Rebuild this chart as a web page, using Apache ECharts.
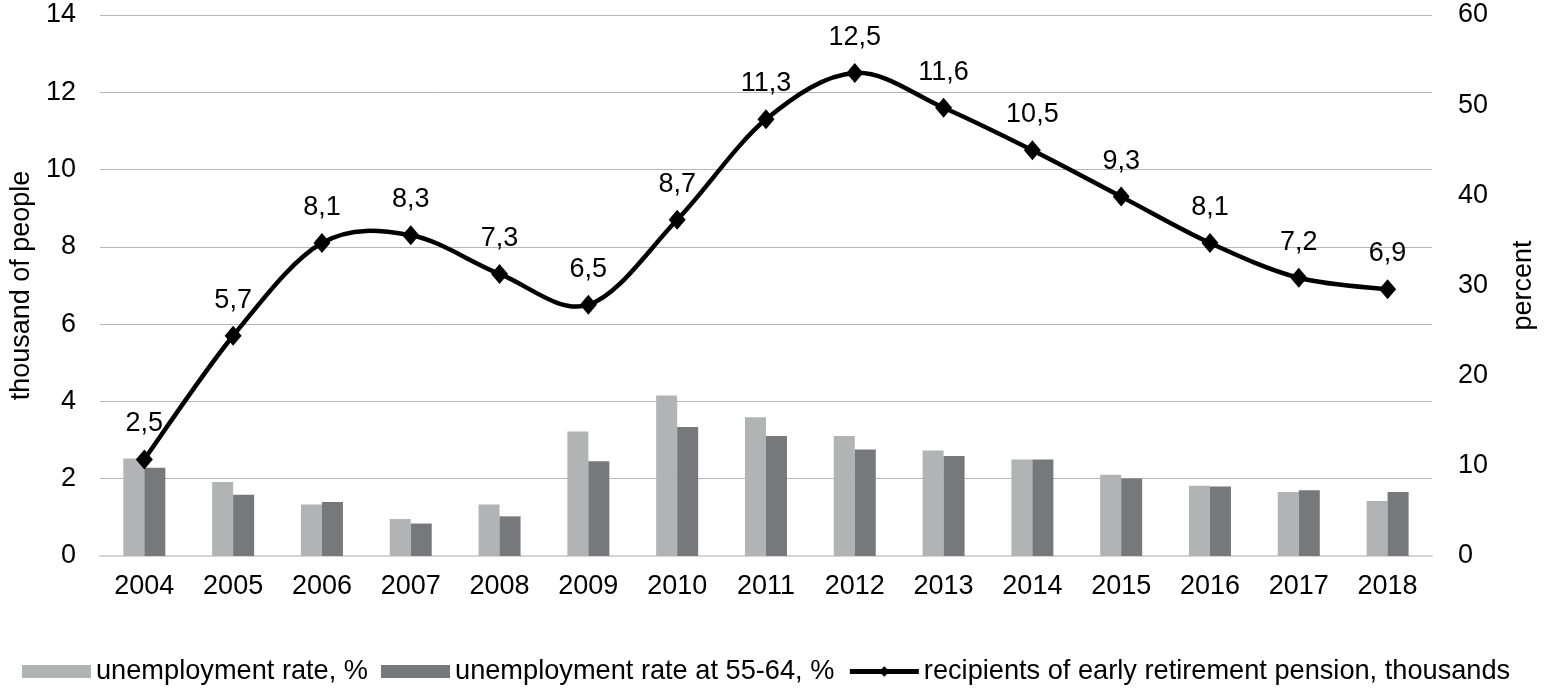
<!DOCTYPE html>
<html>
<head>
<meta charset="utf-8">
<script src="https://cdn.jsdelivr.net/npm/echarts@6/dist/echarts.min.js"></script>
<style>html,body{margin:0;padding:0;background:#fff}#c{width:1558px;height:700px}</style>
</head>
<body>
<div id="c"></div>
<script>
const years = ['2004','2005','2006','2007','2008','2009','2010','2011','2012','2013','2014','2015','2016','2017','2018'];
const unemploymentRate = [10.8, 8.2, 5.7, 4.1, 5.7, 13.8, 17.8, 15.4, 13.3, 11.7, 10.7, 9.0, 7.8, 7.1, 6.1];
const unemploymentRate5564 = [9.8, 6.8, 6.0, 3.6, 4.4, 10.5, 14.3, 13.3, 11.8, 11.1, 10.7, 8.6, 7.7, 7.3, 7.1];
const earlyPensionRecipients = [2.5, 5.7, 8.1, 8.3, 7.3, 6.5, 8.7, 11.3, 12.5, 11.6, 10.5, 9.3, 8.1, 7.2, 6.9];
const leftTicks = {min: 0, max: 14, interval: 2};
const rightTicks = {min: 0, max: 60, interval: 10};

const FONT = "'Liberation Sans', Arial, sans-serif";
const LINE_NAME = 'recipients of early retirement pension, thousands';
const chart = echarts.init(document.getElementById('c'), null, {renderer: 'canvas'});

// Smooth (Catmull-Rom style) curve through the points, positioned with the chart's own scales
function renderCurve(params, api) {
  if (params.dataIndex !== 0) return null;
  const pts = earlyPensionRecipients.map((v, i) => api.coord([i, v]));
  const n = pts.length;
  let d = 'M' + pts[0][0] + ' ' + pts[0][1];
  for (let i = 0; i < n - 1; i++) {
    const p0 = pts[Math.max(i - 1, 0)], p1 = pts[i], p2 = pts[i + 1], p3 = pts[Math.min(i + 2, n - 1)];
    const c1x = p1[0] + (p2[0] - p0[0]) / 6, c1y = p1[1] + (p2[1] - p0[1]) / 6;
    const c2x = p2[0] - (p3[0] - p1[0]) / 6, c2y = p2[1] - (p3[1] - p1[1]) / 6;
    d += ' C' + c1x + ' ' + c1y + ' ' + c2x + ' ' + c2y + ' ' + p2[0] + ' ' + p2[1];
  }
  return {
    type: 'path',
    shape: {pathData: d},
    style: {fill: null, stroke: '#000', lineWidth: 4.5, lineJoin: 'round', lineCap: 'round'},
    silent: true
  };
}

chart.setOption({
  animation: false,
  backgroundColor: '#ffffff',
  textStyle: {fontFamily: FONT, color: '#000'},
  grid: {left: 99, right: 126, top: 15, bottom: 144, containLabel: false},
  legend: {
    left: 17, top: 653,
    itemWidth: 69, itemHeight: 13, itemGap: 13,
    textStyle: {fontFamily: FONT, fontSize: 27.2, color: '#000'},
    data: [
      {name: 'unemployment rate, %', icon: 'rect'},
      {name: 'unemployment rate at 55-64, %', icon: 'rect'},
      {name: LINE_NAME, lineStyle: {color: '#000', width: 5, opacity: 1}, itemStyle: {color: '#000'}}
    ]
  },
  xAxis: {
    type: 'category', data: years,
    axisLine: {lineStyle: {color: '#d4d4d4', width: 2}},
    axisTick: {show: false},
    axisLabel: {fontFamily: FONT, fontSize: 27, color: '#000', margin: 17}
  },
  yAxis: [
    {
      type: 'value', min: leftTicks.min, max: leftTicks.max, interval: leftTicks.interval,
      name: 'thousand of people', nameLocation: 'middle', nameGap: 59, nameRotate: 90,
      nameTextStyle: {fontFamily: FONT, fontSize: 27, color: '#000'},
      axisLine: {show: false}, axisTick: {show: false},
      axisLabel: {fontFamily: FONT, fontSize: 27, color: '#000', margin: 24},
      splitLine: {lineStyle: {color: '#b5b5b5', width: 1}}
    },
    {
      type: 'value', min: rightTicks.min, max: rightTicks.max, interval: rightTicks.interval,
      name: 'percent', nameLocation: 'middle', nameGap: 78, nameRotate: 90,
      nameTextStyle: {fontFamily: FONT, fontSize: 27, color: '#000'},
      axisLine: {show: false}, axisTick: {show: false},
      axisLabel: {fontFamily: FONT, fontSize: 27, color: '#000', margin: 26},
      splitLine: {show: false}
    }
  ],
  series: [
    {
      name: 'unemployment rate, %', type: 'bar', yAxisIndex: 1,
      data: unemploymentRate, barWidth: 21, barGap: '0%',
      itemStyle: {color: '#b2b3b5'}
    },
    {
      name: 'unemployment rate at 55-64, %', type: 'bar', yAxisIndex: 1,
      data: unemploymentRate5564, barWidth: 21, barGap: '0%',
      itemStyle: {color: '#77787c'}
    },
    {
      name: 'curve', type: 'custom', yAxisIndex: 0,
      data: earlyPensionRecipients.map((v, i) => [i, v]),
      renderItem: renderCurve, z: 4, silent: true
    },
    {
      name: LINE_NAME, type: 'line', yAxisIndex: 0,
      data: earlyPensionRecipients,
      symbol: 'diamond', symbolSize: [17, 20],
      lineStyle: {color: '#000', width: 0, opacity: 0},
      itemStyle: {color: '#000'},
      label: {
        show: true, position: 'top', distance: 12,
        fontFamily: FONT, fontSize: 27, color: '#000',
        formatter: p => String(p.value).replace('.', ',')
      },
      z: 5
    }
  ]
});
</script>
</body>
</html>
